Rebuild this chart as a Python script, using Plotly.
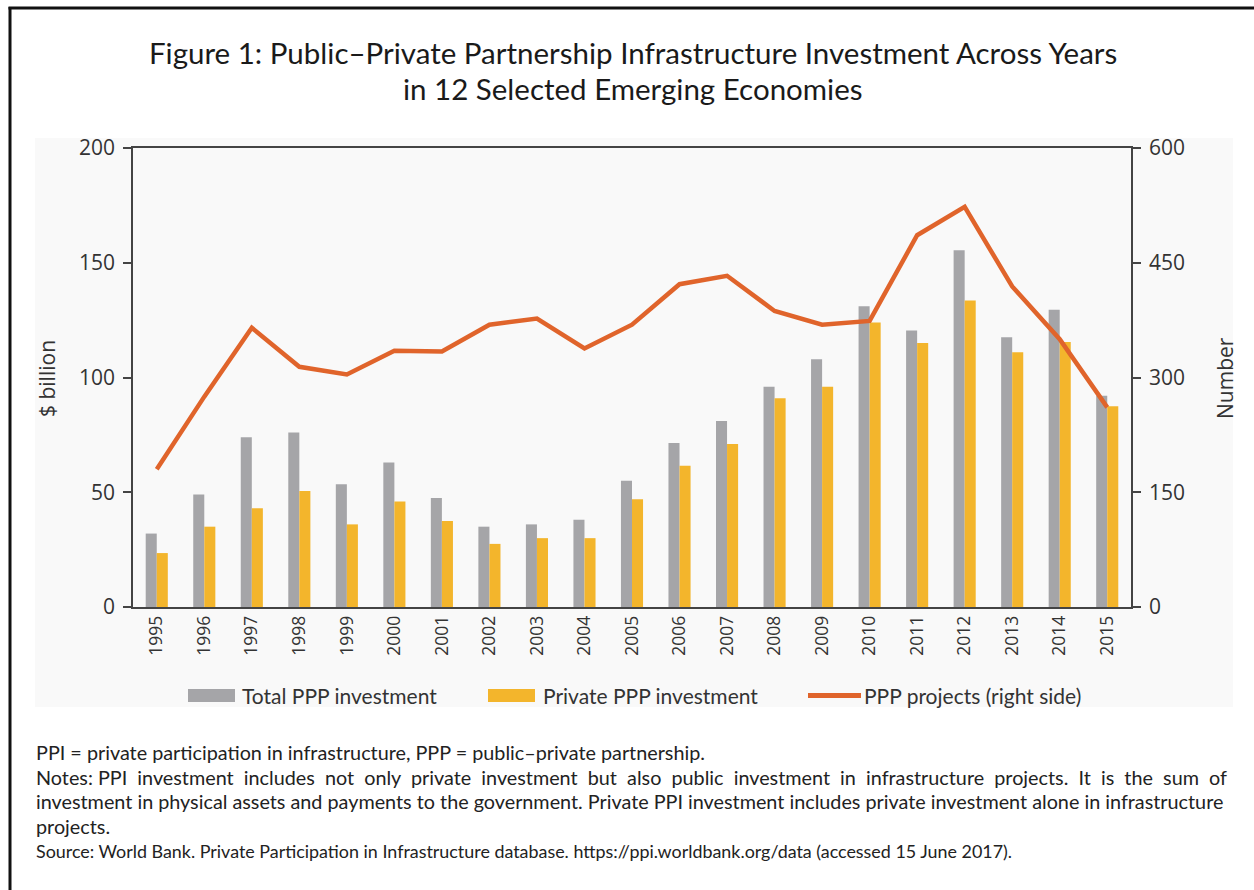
import plotly.graph_objects as go

# Data
years = [str(y) for y in range(1995, 2016)]
total_ppp = [32, 49, 74, 76, 53.5, 63, 47.5, 35, 36, 38, 55, 71.5, 81, 96, 108,
             131, 120.5, 155.5, 117.5, 129.5, 92]
private_ppp = [23.5, 35, 43, 50.5, 36, 46, 37.5, 27.5, 30, 30, 47, 61.5, 71, 91, 96,
               124, 115, 133.5, 111, 115.5, 87.5]
ppp_projects = [180, 275, 365, 314, 304, 335, 334, 369, 377, 338, 369, 422, 433, 387,
                369, 374, 486, 523, 419, 350, 261]

left_ticks = [0, 50, 100, 150, 200]
right_ticks = [0, 150, 300, 450, 600]

GRAY = "#A5A5A8"
YELLOW = "#F3B52C"
ORANGE = "#E0642B"
AXIS = "#444444"
TXT = "#333333"

W, H = 1254, 890


def px(x):
    return x / W


def py(y):
    return 1 - y / H


def spread(line, extra_gaps):
    """Widen word gaps with non-breaking spaces to approximate a justified line."""
    words = line.split(" ")
    gaps = len(words) - 1
    out = words[0]
    for i, w in enumerate(words[1:]):
        pad = "\u00a0" if (i * extra_gaps) // gaps != ((i + 1) * extra_gaps) // gaps else ""
        out += " " + pad + w
    return out


fig = go.Figure()
fig.add_trace(go.Bar(x=years, y=total_ppp, name="Total PPP investment",
                     marker=dict(color=GRAY, line=dict(width=0))))
fig.add_trace(go.Bar(x=years, y=private_ppp, name="Private PPP investment",
                     marker=dict(color=YELLOW, line=dict(width=0))))
fig.add_trace(go.Scatter(x=years, y=ppp_projects, name="PPP projects (right side)",
                         yaxis="y2", mode="lines",
                         line=dict(color=ORANGE, width=4.5)))

shapes = [
    # light panel behind the chart
    dict(type="rect", xref="paper", yref="paper", x0=px(35), x1=px(1233),
         y0=py(707), y1=py(138), fillcolor="#F9F9F9", line=dict(width=0),
         layer="below"),
    # frame lines
    dict(type="line", xref="paper", yref="paper", x0=px(10), x1=px(10),
         y0=py(7), y1=py(892), line=dict(color="#111111", width=3)),
    dict(type="line", xref="paper", yref="paper", x0=px(8.5), x1=px(1256),
         y0=py(8), y1=py(8), line=dict(color="#111111", width=3)),
    # legend swatches
    dict(type="rect", xref="paper", yref="paper", x0=px(188), x1=px(235),
         y0=py(702), y1=py(689), fillcolor=GRAY, line=dict(width=0)),
    dict(type="rect", xref="paper", yref="paper", x0=px(488), x1=px(535),
         y0=py(702), y1=py(689), fillcolor=YELLOW, line=dict(width=0)),
    dict(type="line", xref="paper", yref="paper", x0=px(808), x1=px(861),
         y0=py(695.5), y1=py(695.5), line=dict(color=ORANGE, width=5)),
]

title_lines = [(53, "Figure 1: Public–Private Partnership Infrastructure Investment Across Years"),
               (88, "in 12 Selected Emerging Economies")]
annotations = []
for yy, t in title_lines:
    annotations.append(dict(text=t, x=px(633), y=py(yy), xref="paper", yref="paper",
                            showarrow=False, xanchor="center", yanchor="middle",
                            font=dict(family="Lato", size=29.5, color="#1A1A1A")))

annotations += [
    dict(text="$ billion", x=px(47), y=py(378), xref="paper", yref="paper",
         showarrow=False, textangle=-90, xanchor="center", yanchor="middle",
         font=dict(family="Open Sans", size=21, color=TXT)),
    dict(text="Number", x=px(1225), y=py(378), xref="paper", yref="paper",
         showarrow=False, textangle=-90, xanchor="center", yanchor="middle",
         font=dict(family="Open Sans", size=21, color=TXT)),
]

legend_items = [(240, "Total PPP investment"), (541, "Private PPP investment"),
                (862, "PPP projects (right side)")]
for x0, label in legend_items:
    annotations.append(dict(text=label, x=px(x0), y=py(695), xref="paper",
                            yref="paper", showarrow=False, xanchor="left",
                            yanchor="middle",
                            font=dict(family="Lato", size=21, color=TXT)))

notes = [
    ("PPI = private participation in infrastructure, PPP = public–private partnership.", 19.8),
    (spread("Notes: PPI investment includes not only private investment but also public "
            "investment in infrastructure projects. It is the sum of", 18), 19.8),
    ("investment in physical assets and payments to the government. Private PPI investment "
     "includes private investment alone in infrastructure", 19.8),
    ("projects.", 19.8),
    ("Source: World Bank. Private Participation in Infrastructure database. "
     "https://ppi.worldbank.org/data (accessed 15 June 2017).", 17.9),
]
for i, (line, size) in enumerate(notes):
    annotations.append(dict(text=line, x=px(34), y=py(752 + i * 24.7), xref="paper",
                            yref="paper", showarrow=False, xanchor="left",
                            yanchor="middle",
                            font=dict(family="Lato", size=size, color="#222222")))

fig.update_layout(
    width=W, height=H,
    margin=dict(l=0, r=0, t=0, b=0),
    paper_bgcolor="white",
    plot_bgcolor="#FDFDFD",
    barmode="group", bargap=0.535, bargroupgap=0,
    showlegend=False,
    shapes=shapes,
    annotations=annotations,
    xaxis=dict(domain=[px(133), px(1131)], type="category",
               showline=True, linecolor=AXIS, linewidth=1.5, mirror=True,
               ticks="", tickangle=-90, ticklabelstandoff=0,
               tickfont=dict(family="Open Sans", size=17.5, color=TXT),
               showgrid=False, zeroline=False, automargin=False),
    yaxis=dict(domain=[py(607), py(148)], range=[0, 200], tickvals=left_ticks,
               showline=True, linecolor=AXIS, linewidth=1.5,
               ticks="outside", ticklen=8, tickcolor=AXIS, tickwidth=1.5,
               ticklabelstandoff=4,
               tickfont=dict(family="Open Sans", size=21, color=TXT),
               showgrid=False, zeroline=False, automargin=False),
    yaxis2=dict(overlaying="y", side="right", range=[0, 600], tickvals=right_ticks,
                showline=True, linecolor=AXIS, linewidth=1.5,
                ticks="outside", ticklen=8, tickcolor=AXIS, tickwidth=1.5,
                ticklabelstandoff=4,
                tickfont=dict(family="Open Sans", size=21, color=TXT),
                showgrid=False, zeroline=False, automargin=False),
)

fig.write_html("out.html")
